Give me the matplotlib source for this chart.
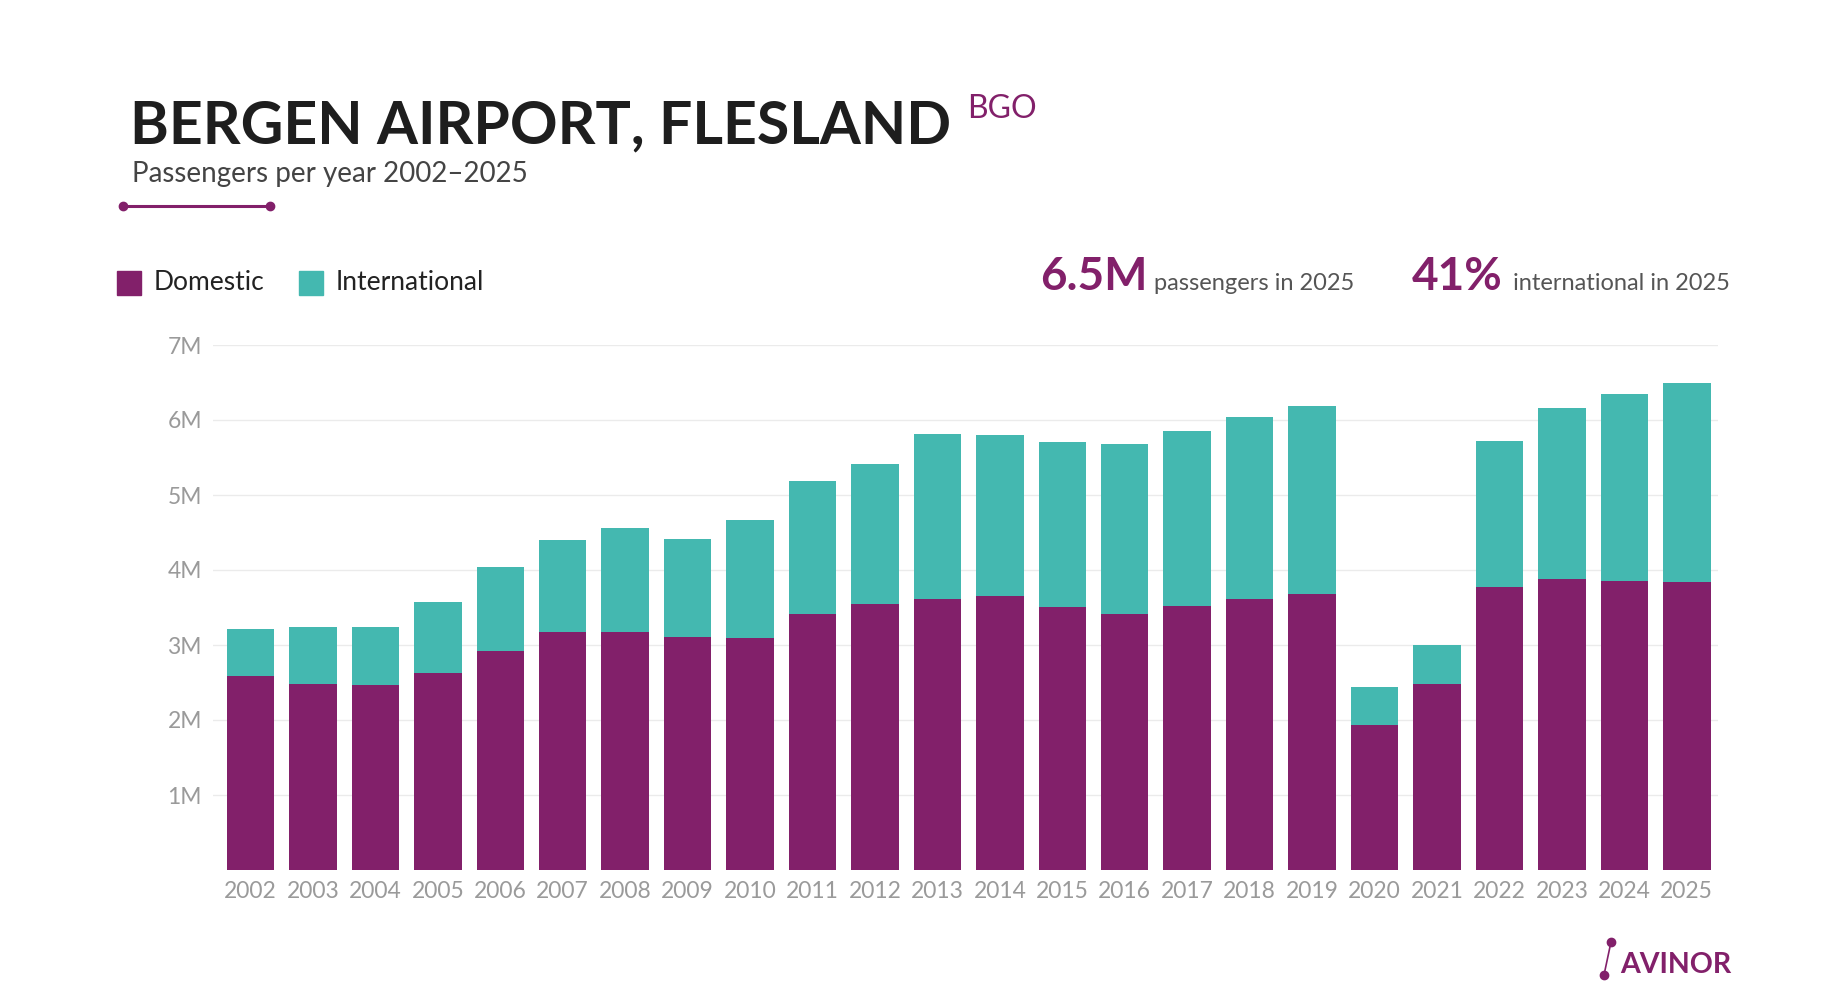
import matplotlib
matplotlib.use("Agg")
import matplotlib.pyplot as plt
from matplotlib.lines import Line2D

years = list(range(2002, 2026))
domestic = [2.59, 2.48, 2.47, 2.63, 2.92, 3.18, 3.18, 3.11, 3.10, 3.41, 3.55, 3.62,
            3.65, 3.51, 3.41, 3.52, 3.62, 3.68, 1.93, 2.48, 3.77, 3.88, 3.85, 3.84]
total = [3.22, 3.24, 3.24, 3.58, 4.04, 4.40, 4.56, 4.42, 4.67, 5.19, 5.42, 5.82,
         5.80, 5.71, 5.68, 5.85, 6.04, 6.19, 2.44, 3.00, 5.72, 6.16, 6.35, 6.49]
international = [t - d for t, d in zip(total, domestic)]
yticks = [1, 2, 3, 4, 5, 6, 7]

PURPLE = "#82206A"
TEAL = "#44B8B0"
plt.rcParams['font.family'] = ['Lato', 'DejaVu Sans']

W, H = 1840, 1008
fig = plt.figure(figsize=(W / 100, H / 100), dpi=100)
ax = fig.add_axes([213 / W, 1 - 870 / H, (1718 - 213) / W, (870 - 345) / H])

x = list(range(len(years)))
ax.bar(x, domestic, width=0.76, color=PURPLE, zorder=3)
ax.bar(x, international, bottom=domestic, width=0.76, color=TEAL, zorder=3)
ax.set_xlim(-0.6, len(years) - 0.5)
ax.set_ylim(0, 7)
ax.set_yticks(yticks)
ax.set_yticklabels([f"{v}M" for v in yticks])
ax.set_xticks(x)
ax.set_xticklabels([str(y) for y in years])
ax.yaxis.grid(True, color="#EBEBEB", lw=1, zorder=0)
for s in ax.spines.values():
    s.set_visible(False)
ax.tick_params(length=0, labelsize=16.5, labelcolor="#9A9A9A", pad=8)

def fx(px):
    return px / W

def fy(py):
    return 1 - py / H

fig.text(fx(130), fy(143), "BERGEN AIRPORT, FLESLAND", fontsize=42.5, fontweight="bold",
         color="#1E1E1E", va="baseline")
fig.text(fx(967), fy(118), "BGO", fontsize=23, color=PURPLE, va="baseline")
fig.text(fx(132), fy(182), "Passengers per year 2002–2025", fontsize=20,
         color="#444444", va="baseline")
fig.add_artist(Line2D([fx(123), fx(270)], [fy(206), fy(206)], color=PURPLE, lw=2.2,
                      marker="o", markersize=6, markevery=[0, 1]))

# legend
fig.patches.append(plt.Rectangle((fx(117), fy(295)), 24 / W, 24 / H, color=PURPLE,
                                 transform=fig.transFigure))
fig.text(fx(154), fy(283), "Domestic", fontsize=19, color="#222222", va="center")
fig.patches.append(plt.Rectangle((fx(299), fy(295)), 24 / W, 24 / H, color=TEAL,
                                 transform=fig.transFigure))
fig.text(fx(336), fy(283), "International", fontsize=19, color="#222222", va="center")

# key figures
fig.text(fx(1040), fy(290), "6.5M", fontsize=33, fontweight="bold", color=PURPLE, va="baseline")
fig.text(fx(1154), fy(290), "passengers in 2025", fontsize=17,
         color="#555555", va="baseline")
fig.text(fx(1412), fy(290), "41%", fontsize=33, fontweight="bold", color=PURPLE, va="baseline")
fig.text(fx(1513), fy(290), "international in 2025", fontsize=17,
         color="#555555", va="baseline")

# logo
fig.add_artist(Line2D([fx(1604), fx(1611)], [fy(975), fy(942)], color=PURPLE, lw=1.2,
                      marker="o", markersize=6, markevery=[0, 1]))
fig.text(fx(1620), fy(973), "AVINOR", fontsize=20.5, fontweight="bold", color=PURPLE,
         va="baseline")

fig.savefig("out.png", dpi=100, facecolor="white")
